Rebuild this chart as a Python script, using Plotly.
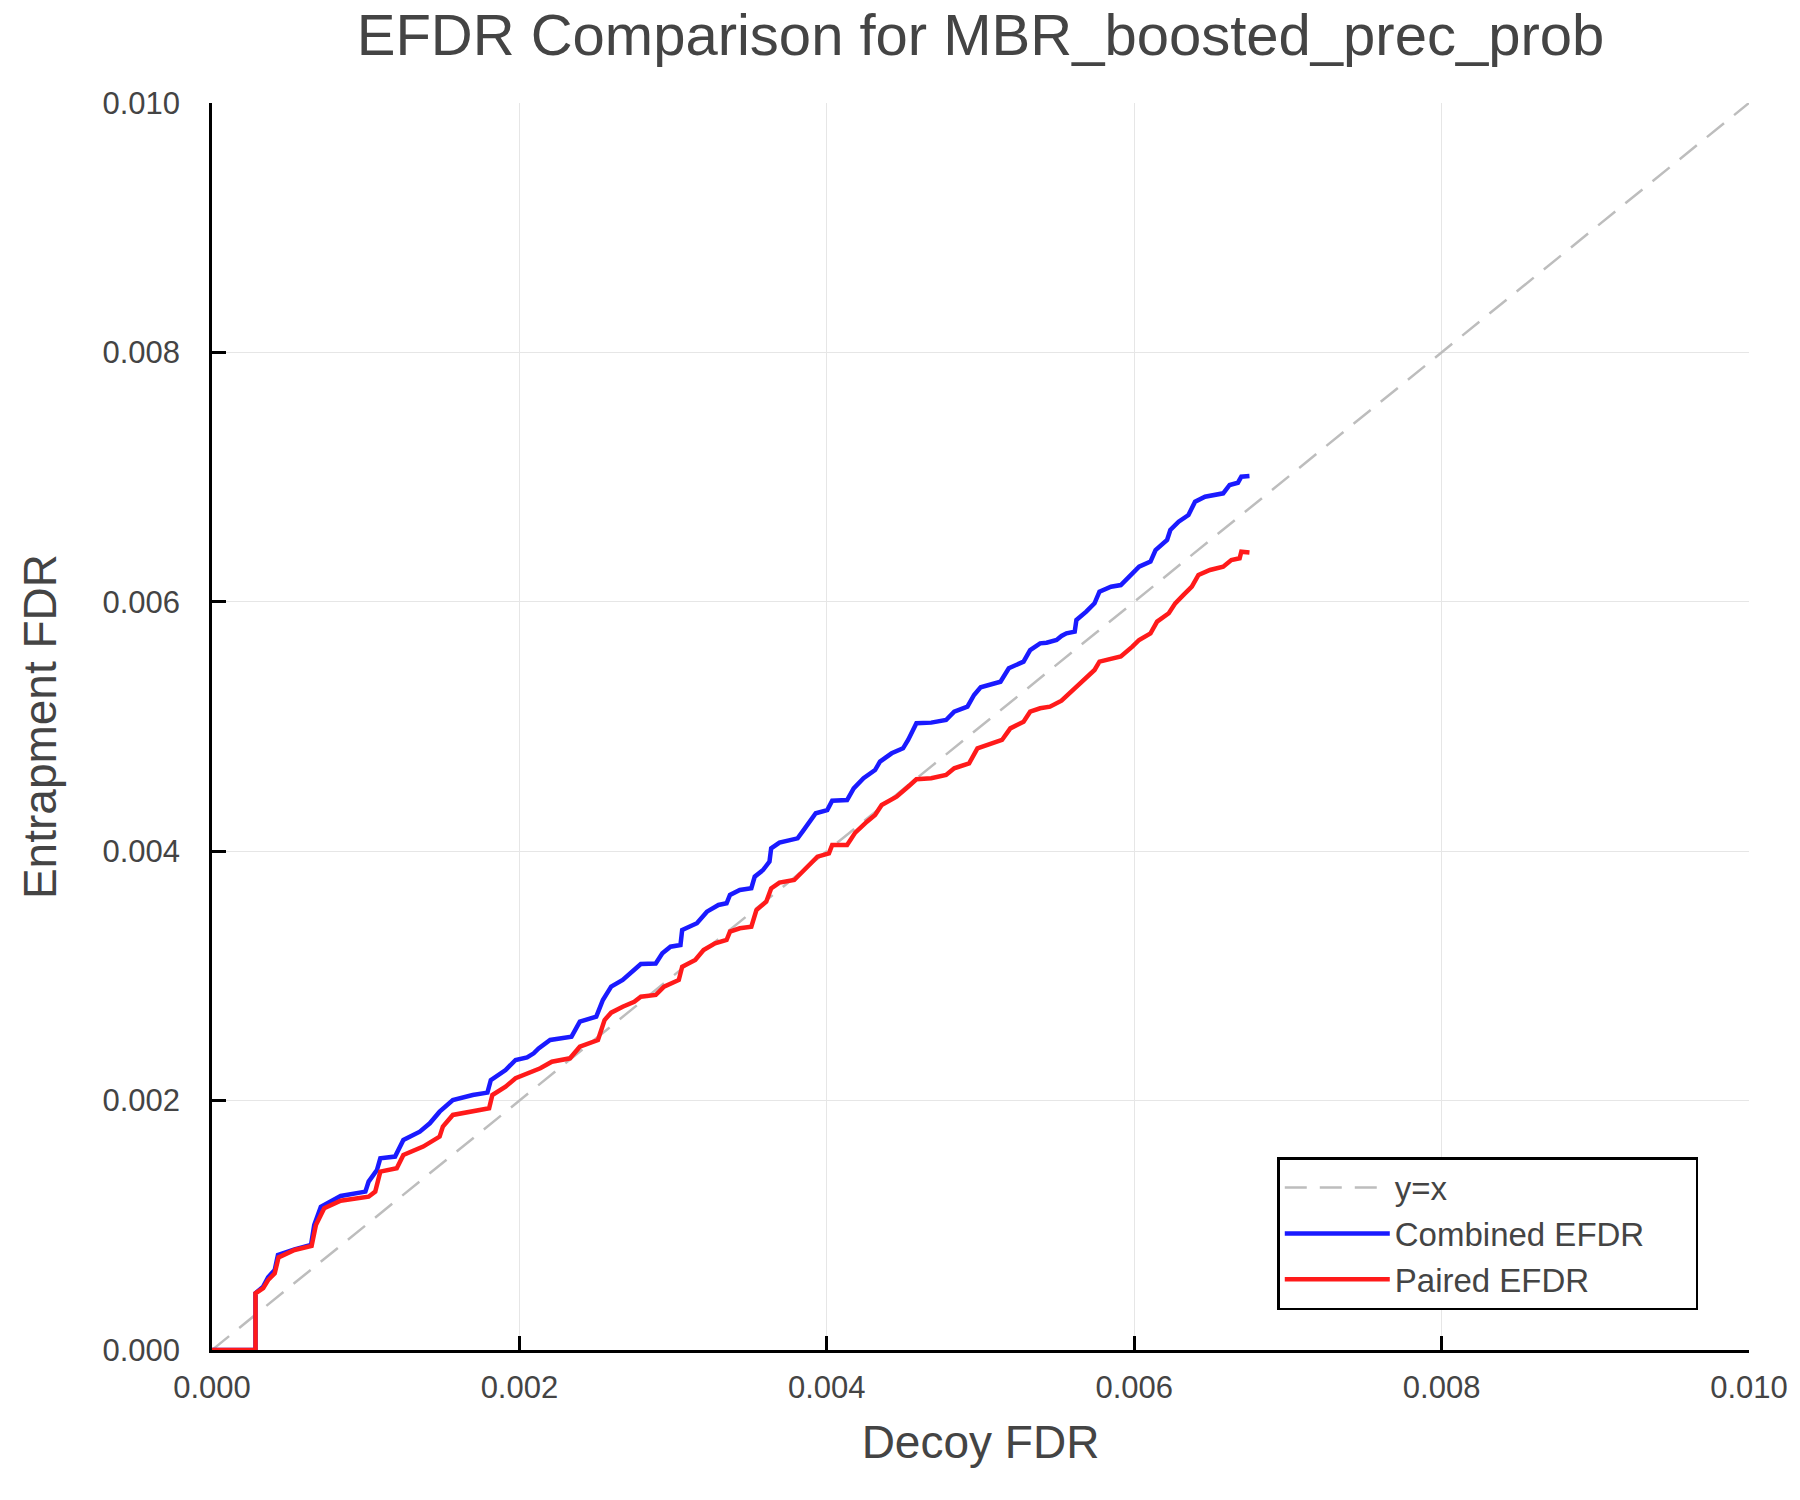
import plotly.graph_objects as go

# identity reference line
diag_x = [0.0, 0.010]
diag_y = [0.0, 0.010]

# Combined EFDR (decoy FDR, entrapment FDR)
comb_x = [0.0, 0.000283, 0.000283, 0.000333, 0.000365, 0.000408, 0.000429, 0.000537, 0.000644, 0.000665,
          0.000708, 0.000837, 0.000998, 0.001019, 0.001073, 0.001095, 0.001191, 0.001245, 0.001352, 0.001417,
          0.001481, 0.001567, 0.001696, 0.001792, 0.001814, 0.001910, 0.001975, 0.002050, 0.002093, 0.002125,
          0.002200, 0.002339, 0.002393, 0.002500, 0.002543, 0.002597, 0.002672, 0.002747, 0.002790, 0.002887,
          0.002930, 0.002983, 0.003048, 0.003059, 0.003155, 0.003220, 0.003295, 0.003348, 0.003370, 0.003434,
          0.003509, 0.003531, 0.003585, 0.003627, 0.003638, 0.003692, 0.003788, 0.003810, 0.003842, 0.003928,
          0.004003, 0.004035, 0.004132, 0.004175, 0.004239, 0.004314, 0.004346, 0.004422, 0.004496, 0.004529,
          0.004583, 0.004679, 0.004776, 0.004829, 0.004915, 0.004958, 0.005001, 0.005130, 0.005184, 0.005280,
          0.005323, 0.005388, 0.005430, 0.005495, 0.005527, 0.005559, 0.005613, 0.005624, 0.005688, 0.005742,
          0.005774, 0.005849, 0.005913, 0.005988, 0.006032, 0.006106, 0.006139, 0.006214, 0.006235, 0.006289,
          0.006353, 0.006396, 0.006461, 0.006579, 0.006621, 0.006675, 0.006697, 0.006750]
comb_y = [0.0, 0.0, 0.000455, 0.000508, 0.000583, 0.000642, 0.000762, 0.000807, 0.000842, 0.001002,
          0.001149, 0.001235, 0.001270, 0.001350, 0.001443, 0.001537, 0.001551, 0.001684, 0.001751, 0.001818,
          0.001911, 0.002005, 0.002045, 0.002064, 0.002165, 0.002245, 0.002326, 0.002347, 0.002379, 0.002419,
          0.002486, 0.002513, 0.002633, 0.002673, 0.002807, 0.002914, 0.002967, 0.003047, 0.003095, 0.003100,
          0.003181, 0.003234, 0.003248, 0.003368, 0.003422, 0.003515, 0.003569, 0.003582, 0.003649, 0.003689,
          0.003703, 0.003796, 0.003849, 0.003916, 0.004023, 0.004069, 0.004095, 0.004103, 0.004157, 0.004304,
          0.004330, 0.004405, 0.004410, 0.004504, 0.004585, 0.004651, 0.004718, 0.004785, 0.004825, 0.004892,
          0.005026, 0.005031, 0.005052, 0.005119, 0.005159, 0.005253, 0.005314, 0.005359, 0.005467, 0.005520,
          0.005613, 0.005667, 0.005672, 0.005694, 0.005726, 0.005747, 0.005761, 0.005854, 0.005921, 0.005988,
          0.006081, 0.006121, 0.006134, 0.006229, 0.006282, 0.006322, 0.006415, 0.006496, 0.006576, 0.006643,
          0.006696, 0.006803, 0.006843, 0.006870, 0.006937, 0.006955, 0.007003, 0.007008]

# Paired EFDR
pair_x = [0.0, 0.000283, 0.000283, 0.000333, 0.000365, 0.000408, 0.000433, 0.000537, 0.000648, 0.000676,
          0.000730, 0.000837, 0.001019, 0.001062, 0.001095, 0.001202, 0.001245, 0.001374, 0.001481, 0.001502,
          0.001567, 0.001674, 0.001803, 0.001824, 0.001910, 0.001975, 0.002045, 0.002136, 0.002211, 0.002329,
          0.002393, 0.002511, 0.002554, 0.002597, 0.002672, 0.002747, 0.002790, 0.002887, 0.002941, 0.003037,
          0.003059, 0.003144, 0.003198, 0.003273, 0.003348, 0.003370, 0.003434, 0.003509, 0.003542, 0.003606,
          0.003638, 0.003692, 0.003788, 0.003863, 0.003939, 0.004014, 0.004035, 0.004132, 0.004185, 0.004261,
          0.004314, 0.004357, 0.004454, 0.004529, 0.004583, 0.004679, 0.004776, 0.004829, 0.004926, 0.004980,
          0.005076, 0.005140, 0.005194, 0.005280, 0.005323, 0.005388, 0.005452, 0.005527, 0.005613, 0.005688,
          0.005742, 0.005774, 0.005849, 0.005913, 0.005988, 0.006032, 0.006106, 0.006149, 0.006225, 0.006267,
          0.006321, 0.006375, 0.006418, 0.006493, 0.006579, 0.006632, 0.006686, 0.006697, 0.006750]
pair_y = [0.0, 0.0, 0.000455, 0.000495, 0.000561, 0.000615, 0.000743, 0.000802, 0.000834, 0.001002,
          0.001136, 0.001197, 0.001229, 0.001270, 0.001430, 0.001457, 0.001564, 0.001631, 0.001711, 0.001791,
          0.001885, 0.001911, 0.001938, 0.002045, 0.002112, 0.002179, 0.002212, 0.002259, 0.002312, 0.002339,
          0.002432, 0.002486, 0.002646, 0.002705, 0.002753, 0.002793, 0.002833, 0.002847, 0.002914, 0.002967,
          0.003074, 0.003128, 0.003208, 0.003261, 0.003288, 0.003355, 0.003382, 0.003395, 0.003528, 0.003595,
          0.003702, 0.003748, 0.003769, 0.003863, 0.003956, 0.003983, 0.004050, 0.004050, 0.004149, 0.004237,
          0.004290, 0.004371, 0.004437, 0.004517, 0.004577, 0.004585, 0.004611, 0.004665, 0.004705, 0.004825,
          0.004865, 0.004892, 0.004985, 0.005039, 0.005119, 0.005146, 0.005159, 0.005207, 0.005306, 0.005386,
          0.005453, 0.005520, 0.005547, 0.005561, 0.005640, 0.005694, 0.005747, 0.005841, 0.005908, 0.005988,
          0.006055, 0.006121, 0.006215, 0.006255, 0.006282, 0.006335, 0.006349, 0.006402, 0.006396]

tick_vals = [0.0, 0.002, 0.004, 0.006, 0.008, 0.010]
tick_text = ["0.000", "0.002", "0.004", "0.006", "0.008", "0.010"]

FONT = "Liberation Sans, Helvetica, Arial, sans-serif"
TXT = "#444444"
PAD = "\u00a0" * 5  # widens the legend box a bit

fig = go.Figure(data=[
    go.Scatter(name="y=x", x=diag_x, y=diag_y, mode="lines",
               line=dict(color="#bdbdbd", width=2.5, dash="22px,13px")),
    go.Scatter(name="Combined EFDR" + PAD, x=comb_x, y=comb_y, mode="lines",
               line=dict(color="#1a1aff", width=4.5)),
    go.Scatter(name="Paired EFDR", x=pair_x, y=pair_y, mode="lines",
               line=dict(color="#ff1a1a", width=4.5)),
])

axis_common = dict(
    range=[-1e-7, 0.0100001], tickvals=tick_vals, ticktext=tick_text,
    showgrid=True, gridcolor="#e6e6e6", gridwidth=1,
    showline=True, linecolor="black", linewidth=2.5, mirror=False,
    ticks="inside", ticklen=14, tickwidth=2.5, tickcolor="black",
    zeroline=False, tickfont=dict(size=31, color=TXT, family=FONT),
    ticklabeloverflow="allow",
)

fig.update_layout(
    width=1800, height=1500,
    margin=dict(l=212, r=20, t=103, b=150),
    plot_bgcolor="white", paper_bgcolor="white",
    font=dict(family=FONT, color=TXT),
    title=dict(text="EFDR Comparison for MBR_boosted_prec_prob", x=0.5, xref="paper",
               y=0.977, yanchor="middle", font=dict(size=58, color=TXT, family=FONT)),
    xaxis=dict(axis_common, title=dict(text="Decoy FDR", font=dict(size=46, color=TXT), standoff=22),
               ticklabelstandoff=8),
    yaxis=dict(axis_common, title=dict(text="Entrapment FDR", font=dict(size=46, color=TXT), standoff=32),
               ticklabelstandoff=23),
    legend=dict(x=0.967, y=0.032, xanchor="right", yanchor="bottom",
                bgcolor="white", bordercolor="black", borderwidth=2.5,
                font=dict(size=33, color=TXT, family=FONT), itemwidth=105,
                tracegroupgap=0),
    showlegend=True,
)

# drop the default page margin so the figure sits at the window corner
fig.write_html("out.html", config={"displayModeBar": False},
               post_script="document.body.style.margin = '0';")
